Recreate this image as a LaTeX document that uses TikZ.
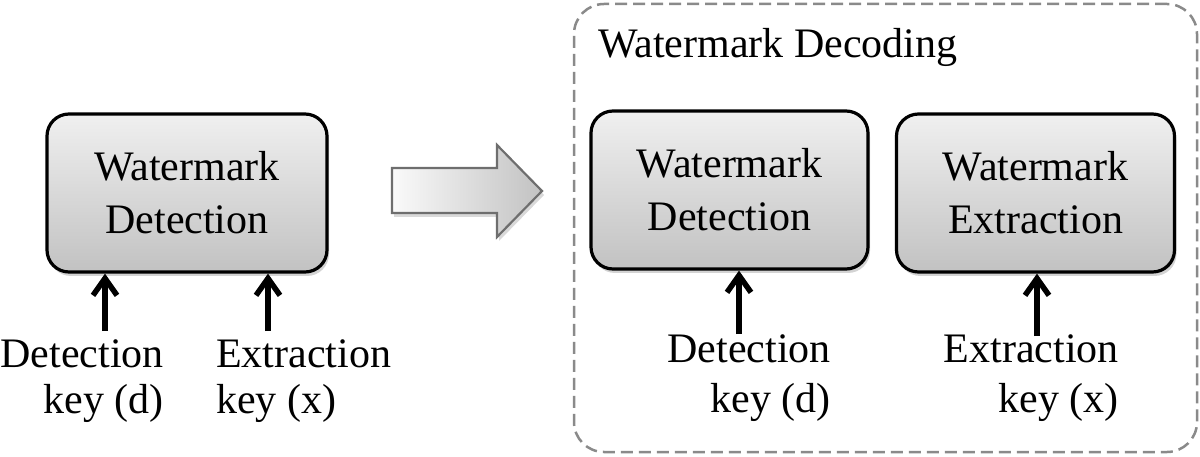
\documentclass[tikz,border=0pt]{standalone}
\usepackage{fontspec}
\setmainfont{Liberation Serif}
\usetikzlibrary{arrows.meta,shadows}
\definecolor{dashgray}{HTML}{8A8A8A}
\definecolor{arrowline}{HTML}{6E6E6E}
\begin{document}
\begin{tikzpicture}[x=1pt,y=-1pt,
  procbox/.style={draw=black, line width=3.2pt, rounded corners=22pt,
    top color=gray!12, bottom color=gray!48,
    drop shadow={opacity=0.35, shadow xshift=2pt, shadow yshift=-4pt},
    align=center, font=\fontsize{42}{53}\selectfont, inner sep=0pt,
    minimum height=158pt},
  lbl/.style={inner sep=0pt, font=\fontsize{42}{48}\selectfont},
  keyarrow/.style={line width=5.5pt, -{Straight Barb[length=17pt,width=24pt]}},
  groupbox/.style={draw=dashgray, line width=2.5pt, dash pattern=on 12pt off 6pt,
    rounded corners=30pt, inner sep=0pt}
]
\useasboundingbox (0,0) rectangle (1200,457);

% decoding group
\node[groupbox, minimum width=623pt, minimum height=448pt] (dec) at (885.5,228) {};
\node[lbl, anchor=base west] (dectitle) at (598,58) {Watermark Decoding};

% boxes
\node[procbox, minimum width=280pt] (lb) at (187,193) {Watermark\\Detection};
\node[procbox, minimum width=277pt] (rb1) at (729.5,190) {Watermark\\Detection};
\node[procbox, minimum width=278pt] (rb2) at (1035.5,193) {Watermark\\Extraction};

% big arrow
\path[draw=arrowline, line width=2.2pt, left color=gray!4, right color=gray!48,
  drop shadow={opacity=0.3, shadow xshift=2pt, shadow yshift=-4pt}]
  (392,168) -- (497,168) -- (497,145) -- (542,191) -- (497,237) -- (497,213) -- (392,213) -- cycle;

% labels
\node[lbl, anchor=base east] (ld1) at (164,367) {Detection};
\node[lbl, anchor=base east] (ld2) at (164,413) {key (d)};
\node[lbl, anchor=base west] (lx1) at (216,367) {Extraction};
\node[lbl, anchor=base west] (lx2) at (216,413) {key (x)};
\node[lbl, anchor=base east] (rd1) at (831,362) {Detection};
\node[lbl, anchor=base east] (rd2) at (831,412) {key (d)};
\node[lbl, anchor=base east] (rx1) at (1119,362) {Extraction};
\node[lbl, anchor=base east] (rx2) at (1119,412) {key (x)};

% key arrows
\coordinate (ka1) at (105,331);
\coordinate (ka2) at (268,331);
\coordinate (ka3) at (739,334);
\coordinate (ka4) at (1037,336);
\draw[keyarrow] (ka1) -- (ka1 |- lb.south);
\draw[keyarrow] (ka2) -- (ka2 |- lb.south);
\draw[keyarrow] (ka3) -- (ka3 |- rb1.south);
\draw[keyarrow] (ka4) -- (ka4 |- rb2.south);
\end{tikzpicture}
\end{document}
